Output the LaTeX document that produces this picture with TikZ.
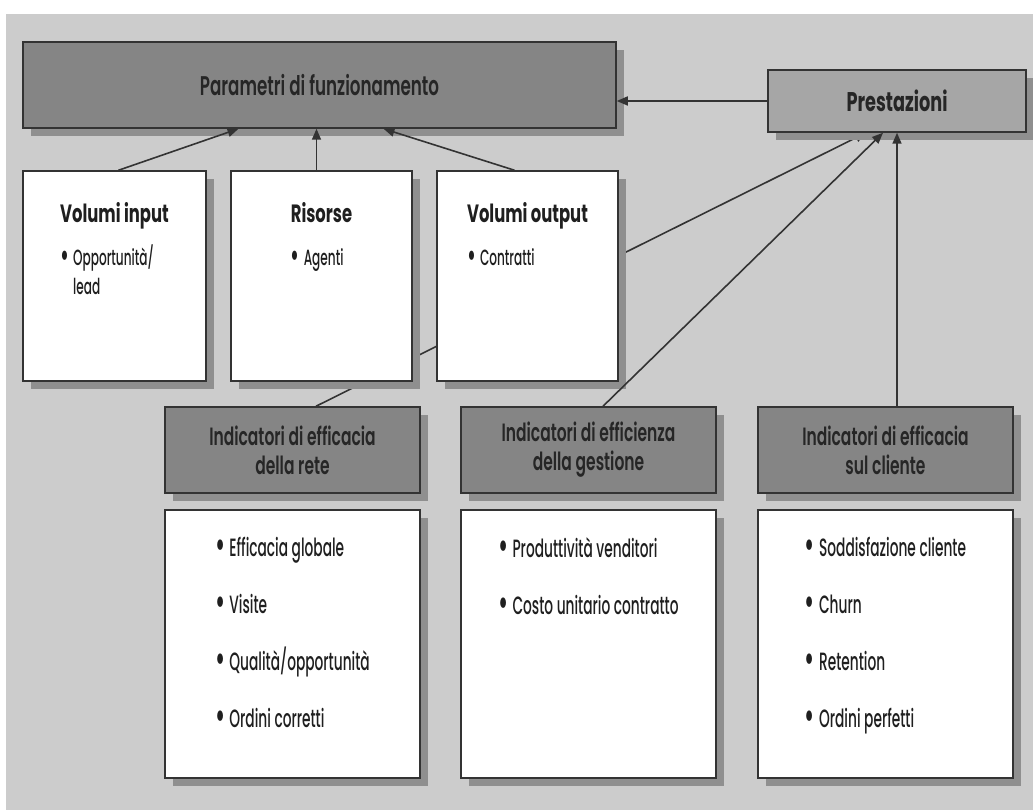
\documentclass[tikz,border=0pt]{standalone}
\usepackage{fontspec}
\setmainfont{Poppins Medium}[FakeStretch=0.55]
\newfontfamily\headfont{Poppins SemiBold}[FakeStretch=0.62]
\newfontfamily\titlefont{Poppins Bold}[FakeStretch=0.655]
\usetikzlibrary{arrows.meta,shadows}

\definecolor{paper}{gray}{0.80}
\definecolor{darkfill}{gray}{0.52}
\definecolor{midfill}{gray}{0.65}
\definecolor{shade}{gray}{0.56}
\definecolor{ink}{gray}{0.2}

\pgfdeclarelayer{paperlayer}
\pgfdeclarelayer{behind}
\pgfsetlayers{paperlayer,behind,main}

\newcommand\blt{\raisebox{-0.15ex}{\scalebox{1.6}{\textbullet}}\hspace{4pt}}

\tikzset{
  box/.style={draw=ink, line width=1.5pt, inner sep=0pt,
    drop shadow={shadow xshift=8pt, shadow yshift=-8pt, fill=shade, opacity=1}},
  headbox/.style={box, fill=darkfill, align=center, text=black!85,
    font=\headfont\fontsize{25}{29}\selectfont},
  listbox/.style={box, fill=white},
  listtext/.style={anchor=north, align=left, inner sep=0pt, text=black!88},
  conn/.style={draw=ink, line width=1.6pt, -{Triangle[length=11pt,width=9pt]}}
}

\begin{document}
\begin{tikzpicture}[x=1pt,y=-1pt]
\useasboundingbox (0,0) rectangle (1033,810);
\begin{pgfonlayer}{paperlayer}
\fill[paper] (6,14) rectangle (1033,810);
\end{pgfonlayer}

% top row
\node[headbox, font=\headfont\fontsize{27}{29}\selectfont, minimum width=593pt, minimum height=86pt] (param) at (319.5,85) {Parametri di funzionamento};
\node[headbox, font=\titlefont\fontsize{27}{29}\selectfont, fill=midfill, minimum width=258pt, minimum height=62pt] (prest) at (897,101) {Prestazioni};

\node[listbox, minimum width=183pt, minimum height=210pt] (vin) at (114.5,276) {};
\node[listbox, minimum width=181pt, minimum height=210pt] (ris) at (321.5,276) {};
\node[listbox, minimum width=181pt, minimum height=210pt] (vout) at (527.5,276) {};

\node[listtext, font=\fontsize{22}{29}\selectfont] (vinlist) at ([yshift=-32pt]vin.north)
  {{\titlefont\fontsize{25}{29}\selectfont Volumi input}\\[14pt]\blt Opportunità/\\\phantom{\blt}lead};
\node[listtext, font=\fontsize{22}{29}\selectfont] (rislist) at ([yshift=-32pt]ris.north)
  {{\titlefont\fontsize{25}{29}\selectfont Risorse}\\[14pt]\blt Agenti};
\node[listtext, font=\fontsize{22}{29}\selectfont] (voutlist) at ([yshift=-32pt]vout.north)
  {{\titlefont\fontsize{25}{29}\selectfont Volumi output}\\[14pt]\blt Contratti};

% indicatori
\node[headbox, minimum width=255pt, minimum height=86pt] (retehead) at (292.5,450) {Indicatori di efficacia\\della rete};
\node[headbox, minimum width=255pt, minimum height=86pt] (gesthead) at (588.5,450) {Indicatori di efficienza\\della gestione};
\node[headbox, minimum width=255pt, minimum height=86pt] (clihead) at (885.5,450) {Indicatori di efficacia\\sul cliente};

\node[listbox, minimum width=255pt, minimum height=268pt] (retebox) at (292.5,644) {};
\node[listbox, minimum width=255pt, minimum height=268pt] (gestbox) at (588.5,644) {};
\node[listbox, minimum width=255pt, minimum height=268pt] (clibox) at (885.5,644) {};

\node[listtext, font=\fontsize{25}{57}\selectfont] (retelist) at ([yshift=-28pt]retebox.north)
  {\blt Efficacia globale\\\blt Visite\\\blt Qualità/opportunità\\\blt Ordini corretti};
\node[listtext, font=\fontsize{25}{57}\selectfont] (gestlist) at ([yshift=-28pt]gestbox.north)
  {\blt Produttività venditori\\\blt Costo unitario contratto};
\node[listtext, font=\fontsize{25}{57}\selectfont] (clilist) at ([yshift=-28pt]clibox.north)
  {\blt Soddisfazione cliente\\\blt Churn\\\blt Retention\\\blt Ordini perfetti};

% connectors
\draw[conn] ([xshift=4pt]vin.north) -- ([xshift=-81pt]param.south);
\draw[conn] ([xshift=-5pt]ris.north) -- ([xshift=-5pt]ris.north |- param.south);
\draw[conn] ([xshift=-13pt]vout.north) -- ([xshift=64pt]param.south);
\draw[conn] (prest.west) -- (prest.west -| param.east);
\begin{pgfonlayer}{behind}
\draw[conn] ([xshift=23.5pt]retehead.north) -- ([xshift=-31pt]prest.south);
\end{pgfonlayer}
\draw[conn] ([xshift=14.5pt]gesthead.north) -- ([xshift=-14pt]prest.south);
\draw[conn] (prest.south |- clihead.north) -- (prest.south);
\end{tikzpicture}
\end{document}
